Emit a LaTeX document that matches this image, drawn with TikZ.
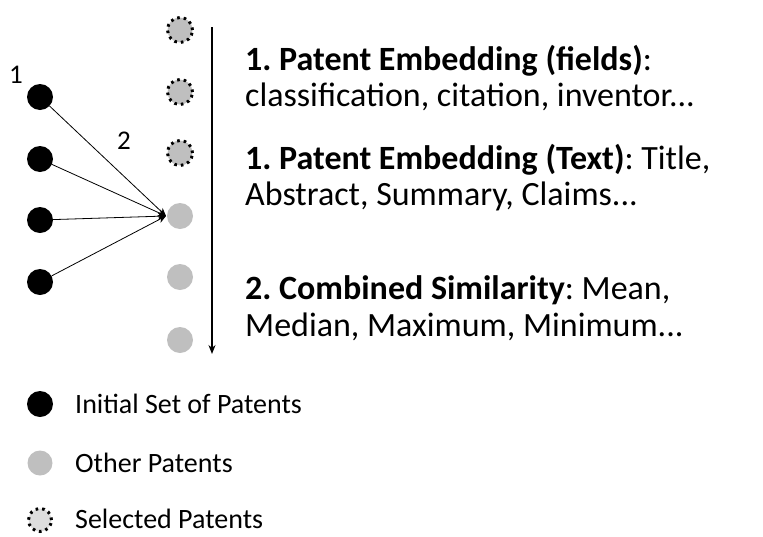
\documentclass[tikz,border=0pt]{standalone}
\usepackage{fontspec}
\setmainfont{Carlito}
\frenchspacing
\usetikzlibrary{arrows.meta}
\definecolor{pgray}{HTML}{BFBFBF}
\definecolor{lgray}{HTML}{DDDDDD}
\tikzset{
  initp/.style={circle,fill=black,minimum size=26pt,inner sep=0pt},
  otherp/.style={circle,fill=pgray,minimum size=26pt,inner sep=0pt},
  selp/.style={circle,fill=pgray,draw=black,line width=3pt,dash pattern=on 2.6pt off 4pt,minimum size=25pt,inner sep=0pt},
  conn/.style={line width=0.8pt,-{Stealth[length=8pt,width=7pt]}},
  body/.style={anchor=west,font=\fontsize{34}{40}\selectfont,inner sep=0pt},
  leg/.style={anchor=west,font=\fontsize{28}{32}\selectfont,inner sep=0pt},
  num/.style={font=\fontsize{27}{30}\selectfont,inner sep=0pt}
}
\begin{document}
\begin{tikzpicture}[x=1pt,y=-1pt]
\useasboundingbox (0,0) rectangle (763,536);
% initial patents
\node[initp] (b1) at (40,97) {};
\node[initp] (b2) at (40,159) {};
\node[initp] (b3) at (40,220) {};
\node[initp] (b4) at (40,282) {};
% selected
\node[selp] (s1) at (180,30) {};
\node[selp] (s2) at (180,92) {};
\node[selp] (s3) at (180,153) {};
% other
\node[otherp] (g1) at (180,216) {};
\node[otherp] (g2) at (180,277) {};
\node[otherp] (g3) at (180,340) {};
\coordinate (t) at (166,216);
\foreach \i in {1,2,3,4} \draw[conn] (b\i) -- (t);
\node[num] (n1) at (16,75) {1};
\node[num] (n2) at (124,141) {2};
% ranking arrow
\coordinate (a0) at (212,27);
\coordinate (a1) at (212,354);
\draw[line width=1.5pt,-{Stealth[length=9pt,width=7pt]}] (a0) -- (a1);
% text
\node[body] (l1) at (245,61) {\textbf{1. Patent Embedding (fields)}:};
\node[body] (l2) at (245,97) {classification, citation, inventor...};
\node[body] (l3) at (245,160) {\textbf{1. Patent Embedding (Text)}: Title,};
\node[body] (l4) at (245,196) {Abstract, Summary, Claims...};
\node[body] (l5) at (245,290) {\textbf{2. Combined Similarity}: Mean,};
\node[body] (l6) at (245,327) {Median, Maximum, Minimum...};
% legend
\node[initp] (k1) at (40,404) {};
\node[otherp,minimum size=25pt] (k2) at (40,463) {};
\node[selp,fill=lgray,minimum size=23pt] (k3) at (40,520) {};
\node[leg] (kt1) at (75,404) {Initial Set of Patents};
\node[leg] (kt2) at (75,463) {Other Patents};
\node[leg] (kt3) at (75,519) {Selected Patents};
\end{tikzpicture}
\end{document}
